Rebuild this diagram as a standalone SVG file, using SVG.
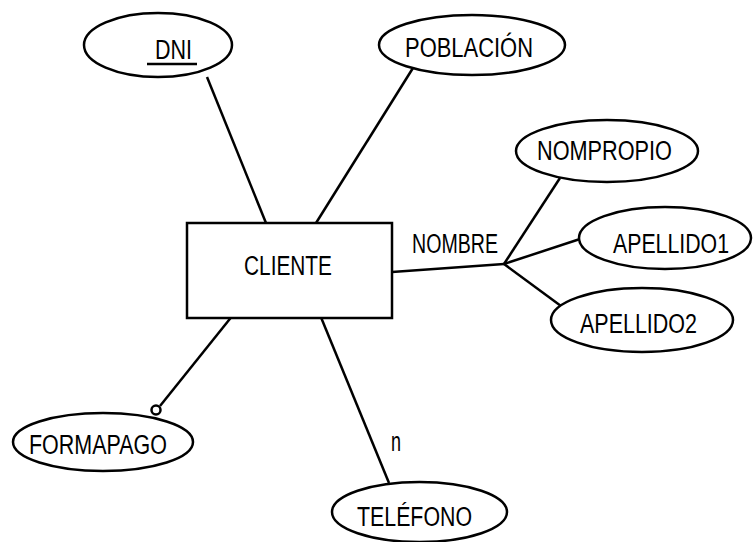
<svg xmlns="http://www.w3.org/2000/svg" width="754" height="542" viewBox="0 0 754 542">
<style>
.n{fill:#fff;stroke:#000;stroke-width:2.5}
.t{font-family:"Liberation Sans Narrow","Liberation Sans",Arial,sans-serif;font-size:27px;fill:#000;text-anchor:middle}
.c{stroke:#000;stroke-width:2.5;fill:none}
</style>
<rect width="754" height="542" fill="#fff"/>
<g id="connectors">
<line class="c" x1="207" y1="77" x2="266" y2="223"/>
<line class="c" x1="413" y1="68" x2="316" y2="223"/>
<line class="c" x1="392" y1="272" x2="504" y2="264"/>
<line class="c" x1="504" y1="264" x2="560" y2="178"/>
<line class="c" x1="504" y1="264" x2="580" y2="239"/>
<line class="c" x1="504" y1="264" x2="561" y2="306"/>
<line class="c" x1="237" y1="310" x2="160" y2="406"/>
<circle class="c" cx="156" cy="410" r="4.5" stroke-width="2"/>
<line class="c" x1="318" y1="310" x2="389" y2="483"/>
<text class="t" x="455" y="253" textLength="86" lengthAdjust="spacingAndGlyphs">NOMBRE</text>
<text class="t" x="396" y="451" textLength="10" lengthAdjust="spacingAndGlyphs">n</text>
</g>
<g id="DNI"><ellipse class="n" cx="158" cy="45" rx="74" ry="32"/><text class="t" x="173.5" y="59" textLength="37" lengthAdjust="spacingAndGlyphs">DNI</text><line class="c" x1="147" y1="64" x2="197" y2="64"/></g>
<g id="POBLACION"><ellipse class="n" cx="472" cy="45" rx="93" ry="30"/><text class="t" x="469" y="57" textLength="128" lengthAdjust="spacingAndGlyphs">POBLACIÓN</text></g>
<g id="NOMPROPIO"><ellipse class="n" cx="607" cy="151" rx="91" ry="31"/><text class="t" x="604.5" y="160" textLength="135" lengthAdjust="spacingAndGlyphs">NOMPROPIO</text></g>
<g id="APELLIDO1"><ellipse class="n" cx="665" cy="238" rx="86" ry="31"/><text class="t" x="671" y="253" textLength="116" lengthAdjust="spacingAndGlyphs">APELLIDO1</text></g>
<g id="APELLIDO2"><ellipse class="n" cx="642" cy="320" rx="91" ry="32"/><text class="t" x="638.5" y="333" textLength="117" lengthAdjust="spacingAndGlyphs">APELLIDO2</text></g>
<g id="FORMAPAGO"><ellipse class="n" cx="103" cy="442" rx="90" ry="29"/><text class="t" x="98" y="454" textLength="138" lengthAdjust="spacingAndGlyphs">FORMAPAGO</text></g>
<g id="TELEFONO"><ellipse class="n" cx="419.5" cy="512" rx="87.5" ry="30"/><text class="t" x="414.5" y="526" textLength="115" lengthAdjust="spacingAndGlyphs">TELÉFONO</text></g>
<g id="CLIENTE"><rect class="n" x="187" y="223" width="205" height="95"/><text class="t" x="288" y="275" textLength="88" lengthAdjust="spacingAndGlyphs">CLIENTE</text></g>
</svg>
